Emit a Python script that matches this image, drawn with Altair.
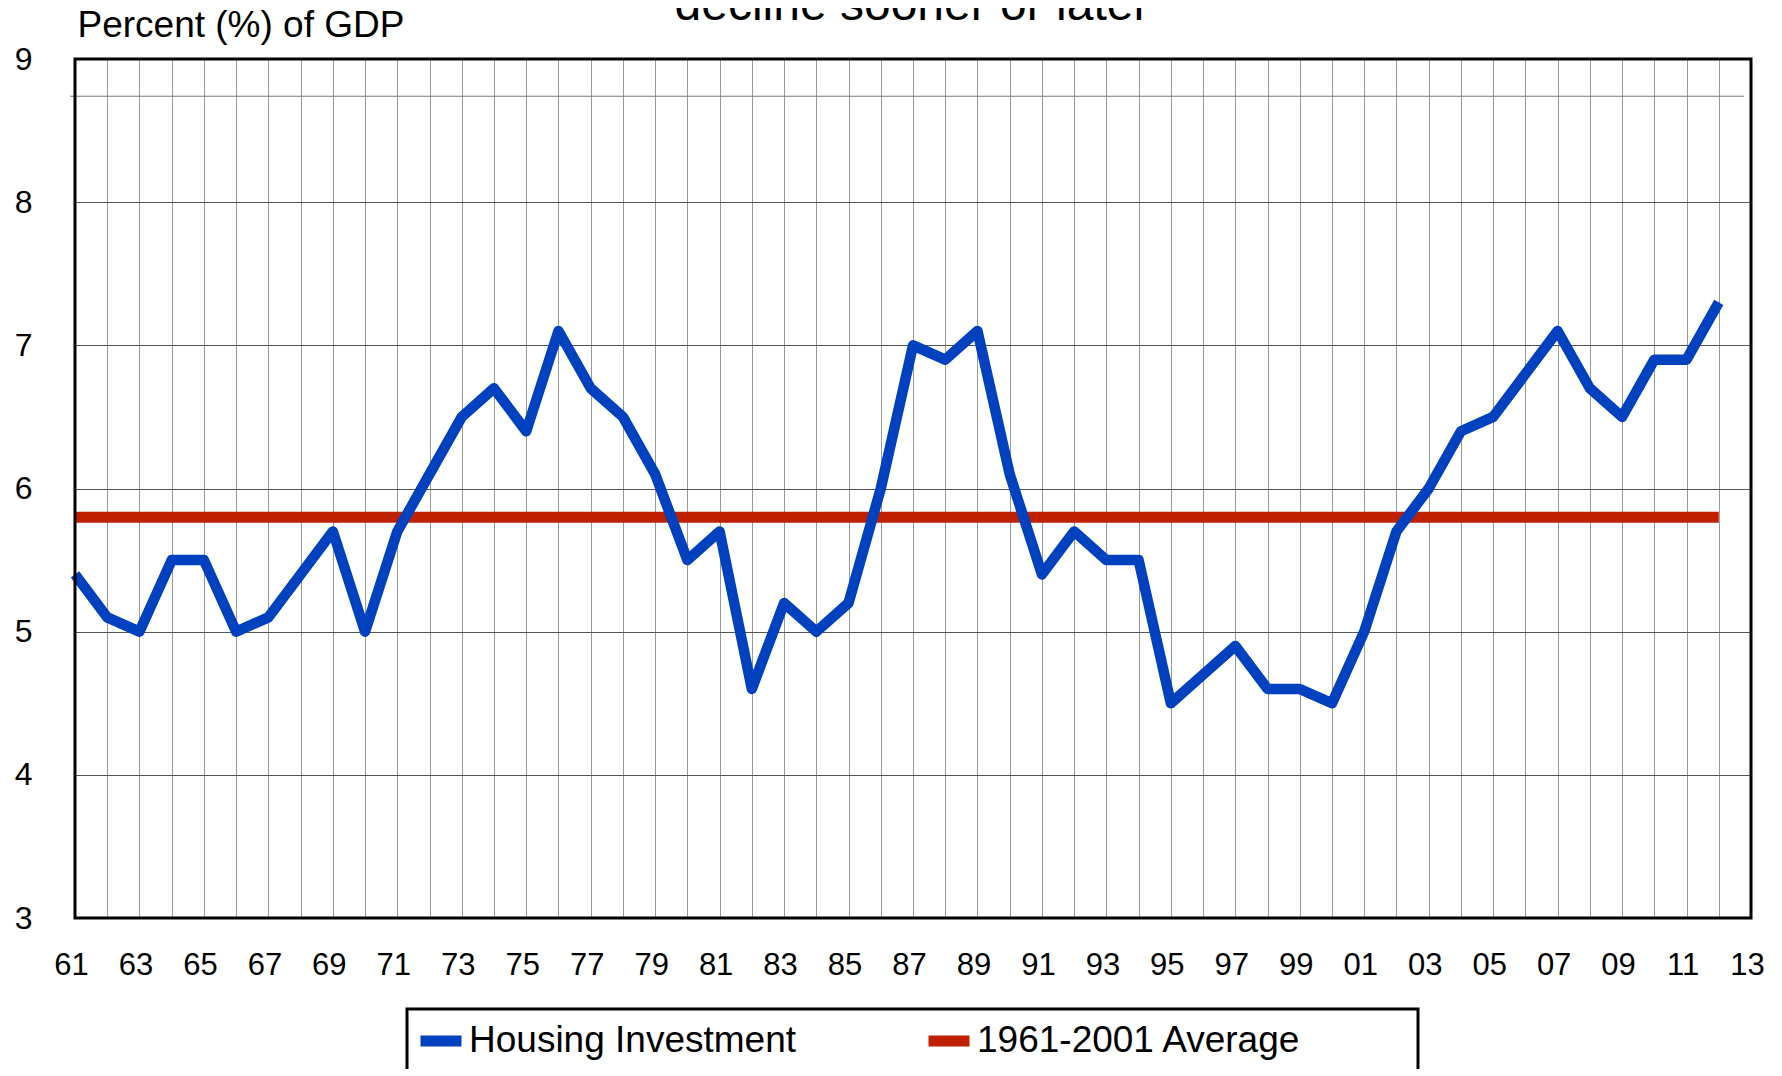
import altair as alt
import pandas as pd

# ---- data ----
years = list(range(1961, 2013))
housing = [5.4, 5.1, 5.0, 5.5, 5.5, 5.0, 5.1, 5.4, 5.7, 5.0,
           5.7, 6.1, 6.5, 6.7, 6.4, 7.1, 6.7, 6.5, 6.1, 5.5,
           5.7, 4.6, 5.2, 5.0, 5.2, 6.0, 7.0, 6.9, 7.1, 6.1,
           5.4, 5.7, 5.5, 5.5, 4.5, 4.7, 4.9, 4.6, 4.6, 4.5,
           5.0, 5.7, 6.0, 6.4, 6.5, 6.8, 7.1, 6.7, 6.5, 6.9, 6.9, 7.3]
avg_years = [1961, 2012]
avg_values = [5.8, 5.8]
series_names = ["Housing Investment", "1961-2001 Average"]
series_colors = ["#0041BF", "#BF2000"]
x_ticks = list(range(1961, 2014))
y_ticks = [3, 4, 5, 6, 7, 8, 9]
extra_line_value = 8.74
title_text = "decline sooner or later"
y_title = "Percent (%) of GDP"

FONT = "Liberation Sans"
W, H = 1676, 859

df_h = pd.DataFrame({"year": years, "value": housing, "series": series_names[0]})
df_a = pd.DataFrame({"year": avg_years, "value": avg_values, "series": series_names[1]})
one = pd.DataFrame({"t": [title_text]})

x_enc = alt.X(
    "year:Q",
    scale=alt.Scale(domain=[1961, 2013], nice=False, zero=False),
    axis=alt.Axis(
        values=x_ticks,
        labelExpr="datum.value % 2 == 1 ? substring(toString(datum.value), 2, 4) : ''",
        grid=True, gridColor="#999999", gridWidth=1,
        domain=False, ticks=False, labelPadding=32, labelOffset=-4,
        labelFontSize=31, labelFont=FONT, labelColor="black",
        labelOverlap=False, labelFlush=False, title=None,
    ),
)
y_enc = alt.Y(
    "value:Q",
    scale=alt.Scale(domain=[3, 9], nice=False, zero=False),
    axis=alt.Axis(
        values=y_ticks, format="d", grid=True, gridColor="#555555", gridWidth=1,
        domain=False, ticks=False, labelPadding=43,
        labelFontSize=32, labelFont=FONT, labelColor="black",
        title=y_title, titleAngle=0, titleX=2, titleY=-23,
        titleAlign="left", titleBaseline="alphabetic",
        titleFontSize=37, titleFont=FONT, titleFontWeight="normal", titleColor="black",
    ),
)
color_enc = alt.Color(
    "series:N",
    scale=alt.Scale(domain=series_names, range=series_colors),
    legend=alt.Legend(
        orient="none", legendX=340, legendY=956, direction="horizontal",
        title=None, symbolType="stroke", symbolSize=1681, symbolStrokeWidth=11,
        labelFontSize=37, labelFont=FONT, labelColor="black", labelOffset=2,
        columnPadding=109, padding=0, labelLimit=600,
    ),
)

avg = alt.Chart(df_a).mark_line(strokeWidth=11, strokeCap="butt").encode(
    x=x_enc, y=y_enc, color=color_enc)
house = alt.Chart(df_h).mark_line(strokeWidth=10.5, strokeCap="butt", strokeJoin="round").encode(
    x=x_enc, y=y_enc, color=color_enc)

extra = alt.Chart(one).mark_rule(color="#777777", strokeWidth=1).encode(
    y=alt.Y(datum=extra_line_value), x=alt.value(-5), x2=alt.value(W - 7))

frame = alt.Chart(one).mark_rect(filled=False, stroke="black", strokeWidth=3).encode(
    x=alt.value(0), x2=alt.value(W), y=alt.value(0), y2=alt.value(H))

legend_box = alt.Chart(one).mark_rect(filled=False, stroke="black", strokeWidth=3).encode(
    x=alt.value(332), x2=alt.value(1343), y=alt.value(950), y2=alt.value(1100))

title = alt.Chart(one).mark_text(
    fontSize=48, font=FONT, align="center", baseline="alphabetic", color="black"
).encode(text="t:N", x=alt.value(837), y=alt.value(-39))

chart = alt.layer(extra, avg, house, frame, legend_box, title).properties(
    width=W, height=H,
    autosize=alt.AutoSizeParams(type="none"),
    padding={"left": 67, "top": 51, "right": 23, "bottom": 151},
    background="white",
).configure_view(stroke=None)

chart.save("out.html", embed_options={"renderer": "svg", "actions": False})
